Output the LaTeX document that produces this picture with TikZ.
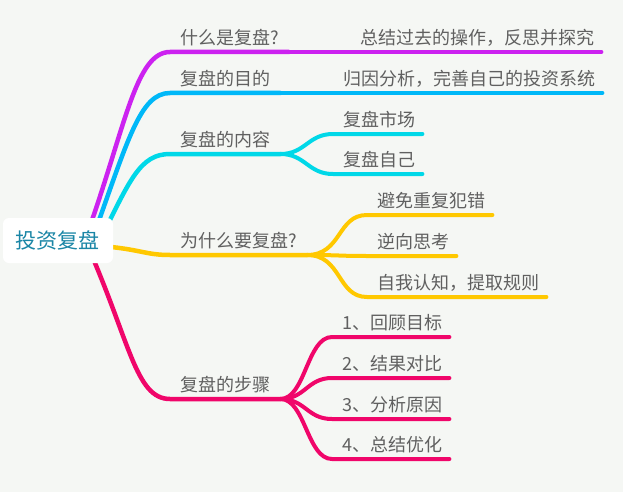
\documentclass[tikz,border=0pt]{standalone}
\usepackage{xcolor}
\usepackage{fontspec}
\newfontfamily\cjk{Noto Sans CJK SC}
\usepackage{tikz}

\definecolor{bg}{RGB}{245,247,244}
\definecolor{txt}{RGB}{96,96,96}
\definecolor{rootc}{RGB}{26,134,166}
\definecolor{purp}{RGB}{204,34,240}
\definecolor{blu}{RGB}{0,184,248}
\definecolor{cya}{RGB}{0,216,232}
\definecolor{yel}{RGB}{255,200,0}
\definecolor{pnk}{RGB}{240,6,106}

\begin{document}
\begin{tikzpicture}[x=1pt, y=-1pt,
    topic/.style={anchor=south west, inner xsep=10pt, inner ysep=7pt, text height=13pt, text depth=0pt,
        text=txt, font=\cjk\fontsize{18pt}{18pt}\selectfont},
    root/.style={fill=white, rounded corners=6pt, minimum width=110pt, minimum height=45pt,
        text=rootc, font=\cjk\fontsize{21pt}{21pt}\selectfont},
    main/.style={line width=4.5pt, line cap=round},
    sub/.style={line width=4pt, line cap=round, shorten >=3pt}]
    \fill[bg] (0,0) rectangle (623,492);
    \useasboundingbox (0,0) rectangle (623,492);

    \coordinate (s1) at (85,240);
    \coordinate (s2) at (92,240);
    \coordinate (s3) at (100,240);
    \coordinate (s4) at (100,246);
    \coordinate (s5) at (85,240);

    \node[topic] at (170,52) (p1) {什么是复盘?};
    \node[topic] at (170,93) (p2) {复盘的目的};
    \node[topic] at (170,154) (p3) {复盘的内容};
    \node[topic] at (170,255) (p4) {为什么要复盘?};
    \node[topic] at (170,399) (p5) {复盘的步骤};

    \node[topic] at (350,52) (q1) {总结过去的操作，反思并探究};
    \node[topic] at (333,93) (q2) {归因分析，完善自己的投资系统};
    \node[topic] at (333,134) (q3) {复盘市场};
    \node[topic] at (333,174) (q4) {复盘自己};
    \node[topic] at (367,215) (q5) {避免重复犯错};
    \node[topic] at (367,256) (q6) {逆向思考};
    \node[topic] at (367,297) (q7) {自我认知，提取规则};
    \node[topic] at (332,337) (q8) {1、回顾目标};
    \node[topic] at (332,378) (q9) {2、结果对比};
    \node[topic] at (332,419) (q10) {3、分析原因};
    \node[topic] at (332,459) (q11) {4、总结优化};

    % root to main topics
    \draw[main, purp] (s1) .. controls (125,130) and (135,52) .. (p1.south west) -- (p1.south east);
    \draw[main, blu] (s2) .. controls (128,140) and (140,93) .. (p2.south west) -- (p2.south east);
    \draw[main, cya] (s3) .. controls (130,180) and (140,154) .. (p3.south west) -- (p3.south east);
    \draw[main, yel] (s4) .. controls (140,249) and (145,255) .. (p4.south west) -- (p4.south east);
    \draw[main, pnk] (s5) .. controls (130,340) and (135,399) .. (p5.south west) -- (p5.south east);

    % main topics to subtopics
    \draw[sub, purp] (p1.south east) -- (q1.south west) -- (q1.south east);
    \draw[sub, blu] (p2.south east) -- (q2.south west) -- (q2.south east);
    \foreach \q in {q3, q4}
        \draw[sub, cya] (p3.south east) .. controls +(25,0) and +(-25,0) .. (\q.south west) -- (\q.south east);
    \foreach \q in {q5, q6, q7}
        \draw[sub, yel] (p4.south east) .. controls +(35,0) and +(-30,0) .. (\q.south west) -- (\q.south east);
    \foreach \q in {q8, q9, q10, q11}
        \draw[sub, pnk] (p5.south east) .. controls +(25,0) and +(-25,0) .. (\q.south west) -- (\q.south east);

    \node[root] at (58,240.5) (r) {投资复盘};
\end{tikzpicture}
\end{document}
